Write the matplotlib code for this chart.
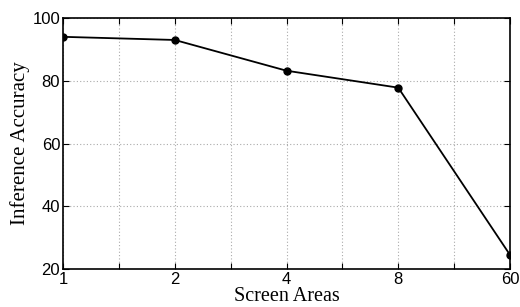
import matplotlib
matplotlib.use('Agg')
import matplotlib.pyplot as plt
import numpy as np

screen_areas = ['1', '2', '4', '8', '60']
accuracy = [94.0, 93.0, 83.2, 77.8, 24.5]

fig = plt.figure(figsize=(5.2, 3.07), dpi=100)
ax = fig.add_axes([63 / 520, 1 - 269 / 307, 447 / 520, 251 / 307])

x = np.arange(len(screen_areas))
ax.plot(x, accuracy, 'k-', marker='o', markersize=5, linewidth=1.3)

ax.set_xlim(0, len(screen_areas) - 1)
ax.set_ylim(20, 100)
ax.set_xticks(x)
ax.set_xticklabels(screen_areas)
ax.set_xticks(np.arange(0.5, len(screen_areas) - 1, 1), minor=True)
ax.set_yticks([20, 40, 60, 80, 100])

ax.grid(True, which='both', axis='x', linestyle=(0, (1, 2)), color='#aaaaaa', linewidth=0.8)
ax.grid(True, which='major', axis='y', linestyle=(0, (1, 2)), color='#aaaaaa', linewidth=0.8)

ax.tick_params(which='both', direction='in', top=True, right=True, length=4,
               width=0.8, labelsize=12, pad=2)
for lbl in ax.get_xticklabels() + ax.get_yticklabels():
    lbl.set_family('Liberation Sans')
for s in ax.spines.values():
    s.set_linewidth(1.2)

ax.set_xlabel('Screen Areas', family='Liberation Serif', fontsize=14.5, labelpad=0.5)
ax.set_ylabel('Inference Accuracy', family='Liberation Serif', fontsize=15, labelpad=2)

plt.savefig('out.png')
